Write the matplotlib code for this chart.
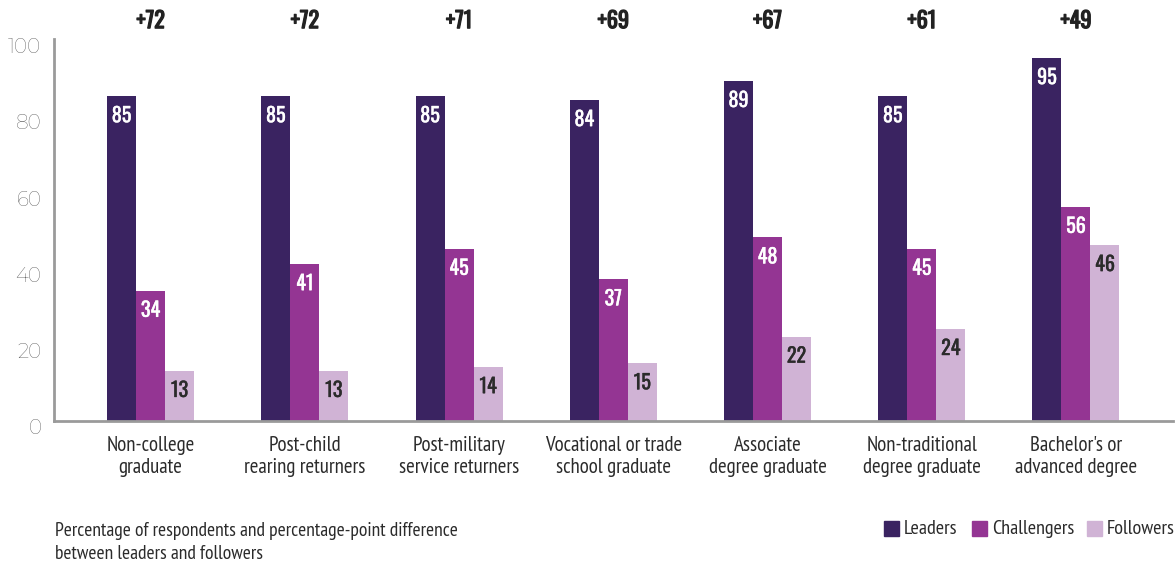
import matplotlib
matplotlib.use("Agg")
import matplotlib.pyplot as plt
import matplotlib.patheffects as pe
import matplotlib.transforms as mtransforms
from matplotlib.patches import Rectangle
import numpy as np

categories = [
    "Non-college\ngraduate",
    "Post-child\nrearing returners",
    "Post-military\nservice returners",
    "Vocational or trade\nschool graduate",
    "Associate\ndegree graduate",
    "Non-traditional\ndegree graduate",
    "Bachelor's or\nadvanced degree",
]
leaders = [85, 85, 85, 84, 89, 85, 95]
challengers = [34, 41, 45, 37, 48, 45, 56]
followers = [13, 13, 14, 15, 22, 24, 46]
gaps = ["+72", "+72", "+71", "+69", "+67", "+61", "+49"]
series_names = ["Leaders", "Challengers", "Followers"]
yticks = [0, 20, 40, 60, 80, 100]

colors = ["#3a2361", "#943593", "#d0b3d5"]
label_colors = ["white", "white", "#2b2b2b"]
narrow = ["PT Sans Narrow", "Roboto Condensed", "IBM Plex Sans Condensed", "DejaVu Sans"]
digits = ["Oswald", "IBM Plex Sans Condensed", "DejaVu Sans"]
light = ["Montserrat", "Lato", "DejaVu Sans"]

W, H = 1176, 566
fig = plt.figure(figsize=(W / 100, H / 100), dpi=100)
ax = fig.add_axes([54 / W, 1 - 420.5 / H, (1172.5 - 54) / W, (420.5 - 39) / H])

x = np.arange(len(categories))
bw = 0.188
for k, (vals, c, lc) in enumerate(zip([leaders, challengers, followers], colors, label_colors)):
    pos = x + (k - 1) * bw
    ax.bar(pos, vals, width=bw, color=c, zorder=2)
    for px, v in zip(pos, vals):
        ax.text(px, v - 5, str(v), ha="center", va="center", color=lc,
                fontsize=14.5, family=digits,
                path_effects=[pe.withStroke(linewidth=0.25, foreground=lc)])

for xi, g in zip(x, gaps):
    ax.text(xi, 1.0 + 0.018, g, transform=ax.get_xaxis_transform(), ha="center", va="bottom",
            fontsize=16, family=digits, color="#222222",
            path_effects=[pe.withStroke(linewidth=0.9, foreground="#222222")])

ax.set_xlim(-0.626, len(categories) - 1 + 0.626)
ax.set_ylim(0, 100)
ax.set_yticks(yticks)
ax.set_yticklabels([str(t) for t in yticks], family=light, fontsize=14.5, color="#4a4a4a",
                   fontweight=300)
ax.tick_params(axis="y", length=0, pad=9)
shift = mtransforms.ScaledTranslation(0, -6.5 / 100, fig.dpi_scale_trans)
for lbl in ax.get_yticklabels():
    lbl.set_transform(lbl.get_transform() + shift)
ax.set_xticks(x)
ax.set_xticklabels(categories, family=narrow, fontsize=15, color="#2b2b2b", linespacing=1.2)
ax.tick_params(axis="x", length=0, pad=11)
for s in ["top", "right"]:
    ax.spines[s].set_visible(False)
for s in ["left", "bottom"]:
    ax.spines[s].set_color("#9a9a9a")
    ax.spines[s].set_linewidth(2)

# Footnote
fig.text(55 / W, 1 - 542.5 / H, "Percentage of respondents and percentage-point difference\nbetween leaders and followers",
         ha="left", va="center", family=narrow, fontsize=14, color="#2b2b2b", linespacing=1.35)

# Legend
legend_x = [884, 972, 1087]
for lx, name, c in zip(legend_x, series_names, colors):
    fig.patches.append(Rectangle((lx / W, 1 - 536 / H), 15 / W, 15 / H, color=c,
                                 transform=fig.transFigure, figure=fig))
    fig.text((lx + 20) / W, 1 - 529 / H, name, ha="left", va="center", family=narrow,
             fontsize=14.5, color="#2b2b2b")

fig.savefig("out.png", dpi=100)
